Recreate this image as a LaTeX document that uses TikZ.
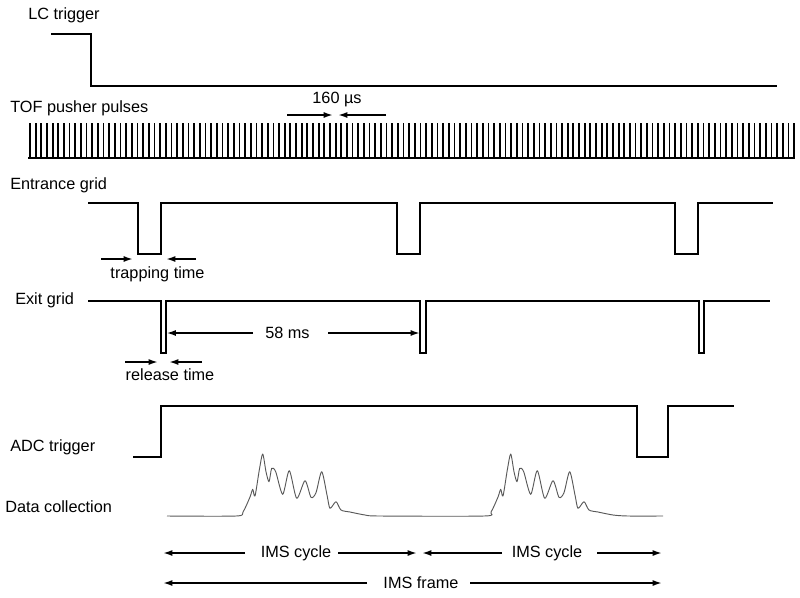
\documentclass[tikz,border=0pt]{standalone}
\usepackage{fontspec}
\setmainfont{Liberation Sans}
\usetikzlibrary{arrows.meta}
\begin{document}
\begin{tikzpicture}[x=0.75pt,y=-0.75pt,
  trace/.style={line width=1.5pt, line join=miter},
  pulse/.style={line width=1.3pt},
  lbl/.style={anchor=west, inner sep=0pt, font=\fontsize{12.2}{14}\selectfont},
  txt/.style={inner sep=0pt, font=\fontsize{12.2}{14}\selectfont},
  arr/.style={line width=1.3pt, -{Latex[length=7pt,width=4.5pt]}},
  sig/.style={line width=0.7pt, black!65}]
\useasboundingbox (0,0) rectangle (800,597);

% labels
\node[lbl] (lcl) at (28,15) {LC trigger};
\node[lbl] (tofl) at (10,108) {TOF pusher pulses};
\node[lbl] (entl) at (10,185) {Entrance grid};
\node[lbl] (exil) at (15,300) {Exit grid};
\node[lbl] (adcl) at (10,447) {ADC trigger};
\node[lbl] (datl) at (5,507) {Data collection};

% LC trigger
\draw[trace] (51,34) -- (91,34) -- (91,86) -- (777,86);

% TOF pusher pulses
\draw[trace] (28,158) -- (795,158);
\foreach \i in {0,...,135} \draw[pulse] ({30+\i*5.66},158) -- ({30+\i*5.66},123);

% 160 us
\node[txt] (us) at (337,100) {160 µs};
\coordinate (usa1) at (287,115); \coordinate (usb1) at (333,115);
\coordinate (usa2) at (386,115); \coordinate (usb2) at (338,115);
\draw[arr] (usa1) -- (usb1);
\draw[arr] (usa2) -- (usb2);

% Entrance grid
\draw[trace] (88,203) -- (138,203) -- (138,254) -- (161,254) -- (161,203)
  -- (397,203) -- (397,254) -- (420,254) -- (420,203)
  -- (675,203) -- (675,254) -- (698,254) -- (698,203) -- (773,203);
\coordinate (tra1) at (101,259); \coordinate (trb1) at (133,259);
\coordinate (tra2) at (196,259); \coordinate (trb2) at (166,259);
\draw[arr] (tra1) -- (trb1);
\draw[arr] (tra2) -- (trb2);
\node[txt] (trap) at (157.5,274) {trapping time};

% Exit grid
\draw[trace] (88,300.5) -- (161,300.5) -- (161,353) -- (166,353) -- (166,300.5)
  -- (420,300.5) -- (420,353) -- (426,353) -- (426,300.5)
  -- (699,300.5) -- (699,353) -- (704,353) -- (704,300.5) -- (770,300.5);
\node[txt] (ms) at (287.5,333) {58 ms};
\coordinate (msa1) at (253,333); \coordinate (msb1) at (166.5,333);
\coordinate (msa2) at (328,333); \coordinate (msb2) at (420,333);
\draw[arr] (msa1) -- (msb1);
\draw[arr] (msa2) -- (msb2);
\coordinate (rla1) at (125,362); \coordinate (rlb1) at (158,362);
\coordinate (rla2) at (202,362); \coordinate (rlb2) at (169,362);
\draw[arr] (rla1) -- (rlb1);
\draw[arr] (rla2) -- (rlb2);
\node[txt] (rel) at (170,375) {release time};

% ADC trigger
\draw[trace] (133,457) -- (161,457) -- (161,406) -- (637,406) -- (637,457)
  -- (668,457) -- (668,406) -- (734,406);

% Data collection
\draw[sig, line join=round] plot[smooth, tension=0.45] coordinates {
  (167,516) (236,516) (243,512) (250,497) (252.7,489.3) (255,496) (259.3,470)
  (262.7,454) (266,471.7) (269,481.7) (271.7,468.3) (275.7,471.7) (282.7,494.3)
  (289.3,470.7) (296.7,498.3) (305,480.7) (311,497.3) (316,492.7) (321.7,471.7)
  (327,495) (330,508.3) (336,501.7) (341,510) (350,512) (365,515) (380,516)
  (484,516) (491,512) (498,497) (500.7,489.3) (503,496) (507.3,470)
  (510.7,454) (514,471.7) (517,481.7) (519.7,468.3) (523.7,471.7) (530.7,494.3)
  (537.3,470.7) (544.7,498.3) (553,480.7) (559,497.3) (564,492.7) (569.7,471.7)
  (575,495) (578,508.3) (584,501.7) (589,510) (598,512) (613,515) (628,516)
  (663,516)};

% IMS cycle / frame
\node[txt] (c1) at (296,553) {IMS cycle};
\node[txt] (c2) at (547,553) {IMS cycle};
\node[txt] (fr) at (421,583) {IMS frame};
\coordinate (c1a) at (245,553); \coordinate (c1b) at (163,553);
\coordinate (c1c) at (338,553); \coordinate (c1d) at (417,553);
\coordinate (c2a) at (502,553); \coordinate (c2b) at (422,553);
\coordinate (c2c) at (597,553); \coordinate (c2d) at (662,553);
\coordinate (fra) at (367,583); \coordinate (frb) at (163,583);
\coordinate (frc) at (470,583); \coordinate (frd) at (662,583);
\draw[arr] (c1a) -- (c1b);
\draw[arr] (c1c) -- (c1d);
\draw[arr] (c2a) -- (c2b);
\draw[arr] (c2c) -- (c2d);
\draw[arr] (fra) -- (frb);
\draw[arr] (frc) -- (frd);
\end{tikzpicture}
\end{document}
